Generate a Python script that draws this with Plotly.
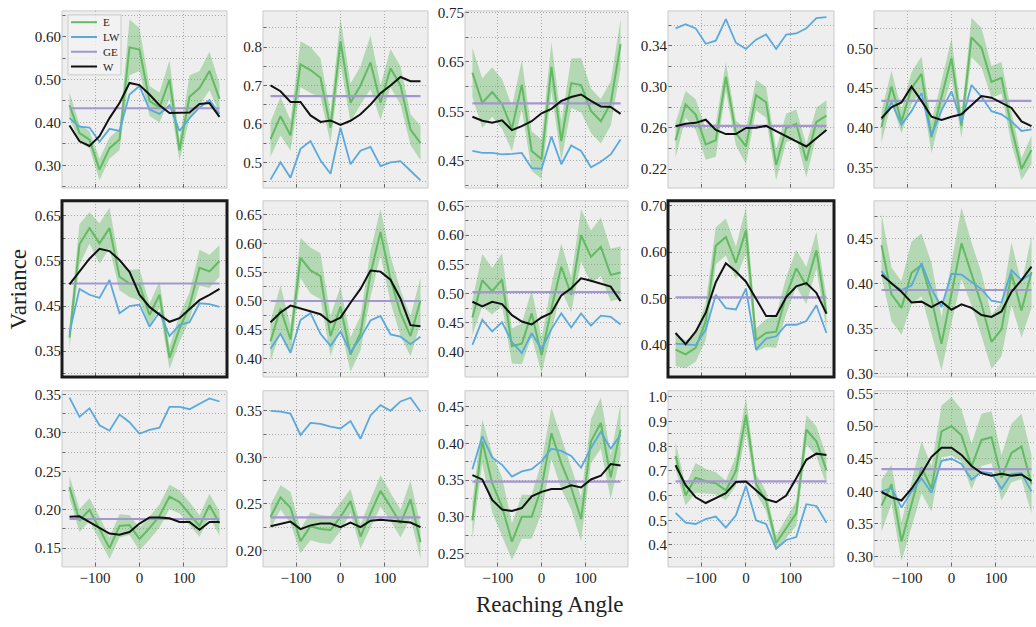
import plotly.graph_objects as go

# Reaching angles (degrees), shared by every panel
ANGLES = [-157.5, -135.0, -112.5, -90.0, -67.5, -45.0, -22.5, 0.0,
          22.5, 45.0, 67.5, 90.0, 112.5, 135.0, 157.5, 180.0]

SERIES = ["E", "LW", "GE", "W"]

# E: mean variance per angle, one row per panel (row-major, 3 x 5 grid)
E_MEAN = [
    [0.44, 0.375, 0.36, 0.29, 0.34, 0.36, 0.575, 0.57, 0.45, 0.435, 0.50, 0.335, 0.46, 0.48, 0.52, 0.455],
    [0.56, 0.62, 0.57, 0.755, 0.74, 0.72, 0.59, 0.815, 0.655, 0.70, 0.76, 0.655, 0.745, 0.70, 0.585, 0.55],
    [0.628, 0.567, 0.589, 0.565, 0.515, 0.604, 0.47, 0.453, 0.64, 0.49, 0.607, 0.603, 0.551, 0.53, 0.566, 0.686],
    [0.248, 0.283, 0.273, 0.244, 0.248, 0.31, 0.255, 0.242, 0.292, 0.285, 0.224, 0.26, 0.264, 0.228, 0.266, 0.272],
    [0.401, 0.452, 0.408, 0.45, 0.468, 0.388, 0.439, 0.488, 0.402, 0.514, 0.501, 0.458, 0.463, 0.40, 0.348, 0.372],
    [0.38, 0.587, 0.623, 0.589, 0.623, 0.515, 0.50, 0.497, 0.43, 0.475, 0.335, 0.40, 0.45, 0.535, 0.527, 0.55],
    [0.43, 0.487, 0.433, 0.575, 0.553, 0.543, 0.439, 0.49, 0.407, 0.444, 0.547, 0.62, 0.538, 0.479, 0.439, 0.501],
    [0.459, 0.523, 0.504, 0.524, 0.41, 0.414, 0.466, 0.394, 0.475, 0.546, 0.498, 0.60, 0.563, 0.58, 0.532, 0.536],
    [0.389, 0.379, 0.393, 0.45, 0.614, 0.633, 0.577, 0.647, 0.41, 0.425, 0.428, 0.506, 0.565, 0.528, 0.604, 0.467],
    [0.443, 0.388, 0.373, 0.412, 0.421, 0.383, 0.333, 0.391, 0.445, 0.411, 0.377, 0.335, 0.349, 0.411, 0.37, 0.413],
    [0.2295, 0.186, 0.20, 0.176, 0.15, 0.179, 0.18, 0.162, 0.176, 0.192, 0.217, 0.21, 0.195, 0.179, 0.206, 0.182],
    [0.236, 0.257, 0.246, 0.21, 0.226, 0.223, 0.222, 0.236, 0.253, 0.215, 0.24, 0.264, 0.247, 0.229, 0.255, 0.209],
    [0.295, 0.403, 0.346, 0.314, 0.266, 0.30, 0.30, 0.34, 0.414, 0.373, 0.34, 0.297, 0.403, 0.428, 0.354, 0.419],
    [0.761, 0.601, 0.672, 0.658, 0.65, 0.621, 0.70, 0.927, 0.648, 0.578, 0.408, 0.468, 0.528, 0.867, 0.82, 0.703],
    [0.378, 0.411, 0.323, 0.379, 0.437, 0.404, 0.492, 0.50, 0.486, 0.438, 0.479, 0.483, 0.421, 0.459, 0.469, 0.411],
]

# E: half-width of the shaded spread around the mean
E_SPREAD = [
    [0.03, 0.02, 0.02, 0.025, 0.025, 0.025, 0.065, 0.05, 0.035, 0.035, 0.045, 0.025, 0.05, 0.04, 0.045, 0.035],
    [0.045, 0.05, 0.04, 0.06, 0.06, 0.05, 0.04, 0.06, 0.05, 0.05, 0.07, 0.045, 0.05, 0.05, 0.04, 0.045],
    [0.05, 0.05, 0.05, 0.05, 0.045, 0.05, 0.04, 0.04, 0.05, 0.04, 0.05, 0.055, 0.045, 0.045, 0.045, 0.05],
    [0.017, 0.013, 0.015, 0.015, 0.016, 0.014, 0.012, 0.017, 0.015, 0.015, 0.015, 0.014, 0.014, 0.016, 0.014, 0.015],
    [0.02, 0.02, 0.015, 0.02, 0.022, 0.02, 0.02, 0.025, 0.015, 0.025, 0.025, 0.02, 0.02, 0.02, 0.014, 0.018],
    [0.025, 0.045, 0.035, 0.045, 0.045, 0.03, 0.03, 0.035, 0.025, 0.03, 0.025, 0.03, 0.03, 0.04, 0.037, 0.035],
    [0.035, 0.04, 0.025, 0.035, 0.04, 0.04, 0.035, 0.035, 0.03, 0.03, 0.04, 0.04, 0.04, 0.04, 0.035, 0.04],
    [0.03, 0.045, 0.04, 0.045, 0.03, 0.035, 0.04, 0.03, 0.04, 0.04, 0.03, 0.045, 0.045, 0.05, 0.045, 0.045],
    [0.035, 0.03, 0.03, 0.04, 0.04, 0.04, 0.035, 0.05, 0.025, 0.03, 0.035, 0.04, 0.04, 0.04, 0.04, 0.035],
    [0.035, 0.03, 0.03, 0.035, 0.035, 0.04, 0.03, 0.035, 0.04, 0.035, 0.035, 0.03, 0.03, 0.035, 0.03, 0.04],
    [0.014, 0.015, 0.015, 0.015, 0.014, 0.015, 0.013, 0.015, 0.015, 0.015, 0.016, 0.015, 0.015, 0.014, 0.015, 0.016],
    [0.013, 0.013, 0.017, 0.013, 0.015, 0.015, 0.015, 0.015, 0.013, 0.013, 0.015, 0.017, 0.015, 0.015, 0.02, 0.018],
    [0.025, 0.03, 0.04, 0.04, 0.025, 0.03, 0.03, 0.035, 0.035, 0.035, 0.03, 0.03, 0.03, 0.035, 0.03, 0.035],
    [0.055, 0.04, 0.06, 0.05, 0.045, 0.04, 0.06, 0.07, 0.04, 0.04, 0.03, 0.04, 0.05, 0.06, 0.06, 0.06],
    [0.04, 0.03, 0.03, 0.035, 0.04, 0.035, 0.04, 0.045, 0.04, 0.035, 0.04, 0.04, 0.035, 0.045, 0.05, 0.045],
]

# LW variance per angle
LW_VALS = [
    [0.41, 0.39, 0.388, 0.355, 0.385, 0.38, 0.465, 0.485, 0.43, 0.42, 0.44, 0.38, 0.41, 0.435, 0.452, 0.42],
    [0.455, 0.50, 0.46, 0.535, 0.555, 0.505, 0.47, 0.59, 0.495, 0.53, 0.54, 0.49, 0.50, 0.503, 0.478, 0.453],
    [0.47, 0.466, 0.466, 0.463, 0.464, 0.466, 0.435, 0.434, 0.499, 0.443, 0.481, 0.47, 0.437, 0.448, 0.463, 0.493],
    [0.357, 0.361, 0.357, 0.342, 0.345, 0.366, 0.343, 0.337, 0.346, 0.351, 0.337, 0.351, 0.352, 0.357, 0.367, 0.368],
    [0.41, 0.432, 0.404, 0.421, 0.444, 0.39, 0.422, 0.446, 0.407, 0.454, 0.439, 0.421, 0.417, 0.408, 0.396, 0.398],
    [0.391, 0.488, 0.475, 0.468, 0.508, 0.434, 0.45, 0.453, 0.404, 0.436, 0.383, 0.408, 0.414, 0.456, 0.454, 0.448],
    [0.417, 0.443, 0.41, 0.467, 0.479, 0.443, 0.422, 0.447, 0.411, 0.436, 0.466, 0.474, 0.442, 0.438, 0.425, 0.438],
    [0.412, 0.455, 0.435, 0.451, 0.417, 0.398, 0.432, 0.405, 0.439, 0.466, 0.442, 0.466, 0.445, 0.462, 0.46, 0.447],
    [0.402, 0.40, 0.399, 0.432, 0.508, 0.479, 0.476, 0.521, 0.389, 0.413, 0.418, 0.443, 0.443, 0.451, 0.485, 0.425],
    [0.414, 0.40, 0.393, 0.398, 0.423, 0.394, 0.374, 0.411, 0.41, 0.402, 0.394, 0.381, 0.379, 0.415, 0.404, 0.411],
    [0.346, 0.321, 0.332, 0.31, 0.303, 0.324, 0.314, 0.299, 0.304, 0.307, 0.334, 0.334, 0.331, 0.338, 0.345, 0.341],
    [0.35, 0.349, 0.347, 0.324, 0.337, 0.336, 0.333, 0.331, 0.339, 0.32, 0.345, 0.356, 0.35, 0.36, 0.364, 0.349],
    [0.365, 0.41, 0.381, 0.371, 0.355, 0.362, 0.365, 0.376, 0.393, 0.39, 0.383, 0.367, 0.394, 0.416, 0.393, 0.412],
    [0.53, 0.49, 0.485, 0.505, 0.515, 0.47, 0.52, 0.64, 0.50, 0.485, 0.385, 0.42, 0.432, 0.565, 0.558, 0.49],
    [0.40, 0.405, 0.375, 0.40, 0.42, 0.398, 0.447, 0.45, 0.442, 0.418, 0.43, 0.428, 0.404, 0.427, 0.428, 0.40],
]

# W variance per angle
W_VALS = [
    [0.393, 0.356, 0.345, 0.368, 0.41, 0.445, 0.492, 0.487, 0.465, 0.44, 0.422, 0.422, 0.423, 0.443, 0.445, 0.413],
    [0.70, 0.685, 0.657, 0.657, 0.622, 0.605, 0.609, 0.597, 0.608, 0.625, 0.65, 0.68, 0.70, 0.722, 0.711, 0.711],
    [0.539, 0.531, 0.527, 0.532, 0.512, 0.52, 0.53, 0.546, 0.555, 0.571, 0.579, 0.584, 0.571, 0.56, 0.559, 0.545],
    [0.2616, 0.264, 0.265, 0.268, 0.258, 0.254, 0.254, 0.26, 0.2603, 0.262, 0.257, 0.252, 0.247, 0.242, 0.25, 0.258],
    [0.412, 0.426, 0.432, 0.452, 0.434, 0.414, 0.41, 0.414, 0.417, 0.429, 0.44, 0.438, 0.432, 0.425, 0.408, 0.402],
    [0.498, 0.526, 0.555, 0.577, 0.572, 0.552, 0.526, 0.475, 0.448, 0.431, 0.415, 0.423, 0.443, 0.463, 0.475, 0.488],
    [0.463, 0.48, 0.492, 0.487, 0.483, 0.477, 0.463, 0.471, 0.497, 0.521, 0.553, 0.551, 0.537, 0.504, 0.458, 0.456],
    [0.486, 0.478, 0.486, 0.482, 0.463, 0.452, 0.447, 0.459, 0.467, 0.497, 0.509, 0.526, 0.522, 0.517, 0.512, 0.487],
    [0.425, 0.401, 0.428, 0.469, 0.535, 0.576, 0.558, 0.536, 0.499, 0.462, 0.462, 0.503, 0.526, 0.533, 0.512, 0.467],
    [0.41, 0.401, 0.391, 0.379, 0.38, 0.374, 0.38, 0.371, 0.377, 0.373, 0.365, 0.363, 0.369, 0.391, 0.404, 0.419],
    [0.191, 0.1915, 0.184, 0.176, 0.169, 0.1675, 0.171, 0.182, 0.19, 0.19, 0.189, 0.184, 0.184, 0.174, 0.184, 0.184],
    [0.226, 0.2285, 0.231, 0.223, 0.227, 0.229, 0.229, 0.225, 0.23, 0.225, 0.232, 0.233, 0.232, 0.231, 0.23, 0.225],
    [0.357, 0.351, 0.323, 0.31, 0.308, 0.312, 0.328, 0.334, 0.338, 0.338, 0.343, 0.34, 0.351, 0.356, 0.372, 0.37],
    [0.723, 0.642, 0.593, 0.57, 0.59, 0.61, 0.655, 0.657, 0.622, 0.585, 0.573, 0.60, 0.67, 0.745, 0.77, 0.765],
    [0.399, 0.391, 0.386, 0.404, 0.427, 0.453, 0.467, 0.467, 0.456, 0.439, 0.428, 0.424, 0.427, 0.424, 0.426, 0.416],
]

# GE: a single level per panel
GE_LEVEL = [0.433, 0.672, 0.566, 0.262, 0.434,
            0.500, 0.500, 0.5025, 0.502, 0.393,
            0.188, 0.2356, 0.348, 0.658, 0.434]

# Per-panel y-axis ranges and tick layout
Y_RANGE = [
    [0.247, 0.66], [0.433, 0.894], [0.395, 0.753], [0.2015, 0.374], [0.324, 0.5475],
    [0.2925, 0.6835], [0.368, 0.674], [0.357, 0.659], [0.33, 0.711], [0.296, 0.4924],
    [0.1256, 0.355], [0.1824, 0.3715], [0.2317, 0.472], [0.311, 1.025], [0.284, 0.5545],
]
Y_TICK0 = [0.3, 0.5, 0.45, 0.22, 0.35,
           0.35, 0.4, 0.4, 0.4, 0.3,
           0.15, 0.2, 0.25, 0.4, 0.3]
Y_DTICK = [0.1, 0.1, 0.1, 0.04, 0.05,
           0.1, 0.05, 0.05, 0.1, 0.05,
           0.05, 0.05, 0.05, 0.1, 0.05]
Y_FORMAT = [".2f", ".1f", ".2f", ".2f", ".2f",
            ".2f", ".2f", ".2f", ".2f", ".2f",
            ".2f", ".2f", ".2f", ".1f", ".2f"]
HIGHLIGHT = [5, 8]

# Figure geometry (pixels)
FIG_W, FIG_H = 1036, 627
COL_PX = [(62, 227), (263, 428), (465, 628), (668, 834), (874, 1039)]
ROW_PX = [(6, 186), (199, 378), (392, 571)]
X_RANGE = [-174.375, 196.875]

GREEN = "#62bb62"
GREEN_FILL = "rgba(98,187,98,0.42)"
BLUE = "#5aa9dc"
PURPLE = "#a497d0"
BLACK = "#111111"
GRID = "#a8a8a8"
GRID_DASH = "1px,2px"
FRAME = "#c9c9c9"
FONT = "Liberation Serif"
COLORS = {"E": GREEN, "LW": BLUE, "GE": PURPLE, "W": BLACK}


def px_x(p):
    return p / FIG_W


def px_y(p):
    return 1 - p / FIG_H


fig = go.Figure()
layout_axes = {}
shapes = []
annotations = []

for k in range(15):
    r, c = divmod(k, 5)
    suffix = "" if k == 0 else str(k + 1)
    xa, ya = "x" + suffix, "y" + suffix

    upper = [m + h for m, h in zip(E_MEAN[k], E_SPREAD[k])]
    lower = [m - h for m, h in zip(E_MEAN[k], E_SPREAD[k])]

    fig.add_trace(go.Scatter(
        x=ANGLES + ANGLES[::-1], y=upper + lower[::-1], fill="toself",
        fillcolor=GREEN_FILL, line=dict(width=0), mode="lines",
        hoverinfo="skip", showlegend=False, xaxis=xa, yaxis=ya))
    fig.add_trace(go.Scatter(
        x=ANGLES, y=E_MEAN[k], mode="lines", name=SERIES[0],
        line=dict(color=GREEN, width=2), showlegend=False, xaxis=xa, yaxis=ya))
    fig.add_trace(go.Scatter(
        x=ANGLES, y=LW_VALS[k], mode="lines", name=SERIES[1],
        line=dict(color=BLUE, width=1.8), showlegend=False, xaxis=xa, yaxis=ya))
    fig.add_trace(go.Scatter(
        x=[ANGLES[0], ANGLES[-1]], y=[GE_LEVEL[k], GE_LEVEL[k]], mode="lines",
        name=SERIES[2], line=dict(color=PURPLE, width=2.2),
        showlegend=False, xaxis=xa, yaxis=ya))
    fig.add_trace(go.Scatter(
        x=ANGLES, y=W_VALS[k], mode="lines", name=SERIES[3],
        line=dict(color=BLACK, width=2), showlegend=False, xaxis=xa, yaxis=ya))

    x0, x1 = COL_PX[c]
    y0, y1 = ROW_PX[r]
    x1_vis = min(x1, FIG_W)
    xr = [X_RANGE[0], X_RANGE[0] + (X_RANGE[1] - X_RANGE[0]) * (x1_vis - x0) / (x1 - x0)]

    layout_axes["xaxis" + suffix] = dict(
        domain=[px_x(x0), px_x(x1_vis)], range=xr, anchor=ya,
        tickmode="linear", tick0=0, dtick=100,
        showgrid=True, gridcolor=GRID, griddash=GRID_DASH, gridwidth=0.9,
        zeroline=False, showline=False,
        ticks="inside", ticklen=4, tickcolor="#666", tickwidth=1,
        showticklabels=(r == 2),
        tickfont=dict(family=FONT, size=15, color="#222"))
    layout_axes["yaxis" + suffix] = dict(
        domain=[px_y(y1), px_y(y0)], range=Y_RANGE[k], anchor=xa,
        tickmode="linear", tick0=Y_TICK0[k], dtick=Y_DTICK[k], tickformat=Y_FORMAT[k],
        showgrid=True, gridcolor=GRID, griddash=GRID_DASH, gridwidth=0.9,
        zeroline=False, showline=False,
        ticks="inside", ticklen=4, tickcolor="#666", tickwidth=1,
        minor=dict(dtick=Y_DTICK[k] / 2, showgrid=True, gridcolor=GRID,
                   griddash=GRID_DASH, gridwidth=0.9, ticks="inside", ticklen=3,
                   tickcolor="#666"),
        tickfont=dict(family=FONT, size=15, color="#222"))

    hl = k in HIGHLIGHT
    shapes.append(dict(
        type="rect", xref="paper", yref="paper", layer="above",
        x0=px_x(x0), x1=px_x(x1), y0=px_y(y1), y1=px_y(y0),
        line=dict(color="#1a1a1a" if hl else FRAME, width=3 if hl else 1),
        fillcolor="rgba(0,0,0,0)"))

# Compact legend box in the first panel
LEG_BOX = (68, 10, 121, 71)
shapes.append(dict(
    type="rect", xref="paper", yref="paper", layer="above",
    x0=px_x(LEG_BOX[0]), x1=px_x(LEG_BOX[2]), y0=px_y(LEG_BOX[3]), y1=px_y(LEG_BOX[1]),
    line=dict(color="#cccccc", width=1), fillcolor="rgba(242,242,242,0.8)"))
for i, name in enumerate(SERIES):
    yy = 17.5 + i * 15
    shapes.append(dict(
        type="line", xref="paper", yref="paper", layer="above",
        x0=px_x(71), x1=px_x(97), y0=px_y(yy), y1=px_y(yy),
        line=dict(color=COLORS[name], width=2)))
    annotations.append(dict(
        text=name, xref="paper", yref="paper", x=px_x(101), y=px_y(yy),
        xanchor="left", yanchor="middle", showarrow=False,
        font=dict(family=FONT, size=11, color="#222")))

annotations += [
    dict(text="Variance", xref="paper", yref="paper", x=px_x(18), y=px_y(289),
         showarrow=False, textangle=-90, font=dict(family=FONT, size=23, color="#222"),
         xanchor="center", yanchor="middle"),
    dict(text="Reaching Angle", xref="paper", yref="paper", x=px_x(550), y=px_y(609),
         showarrow=False, font=dict(family=FONT, size=23, color="#222"),
         xanchor="center", yanchor="middle"),
]

fig.update_layout(
    width=FIG_W, height=FIG_H,
    margin=dict(l=0, r=0, t=0, b=0),
    paper_bgcolor="white", plot_bgcolor="#eeeeee",
    font=dict(family=FONT, color="#222"),
    showlegend=False,
    shapes=shapes,
    annotations=annotations,
    **layout_axes,
)

fig.write_html("out.html")
